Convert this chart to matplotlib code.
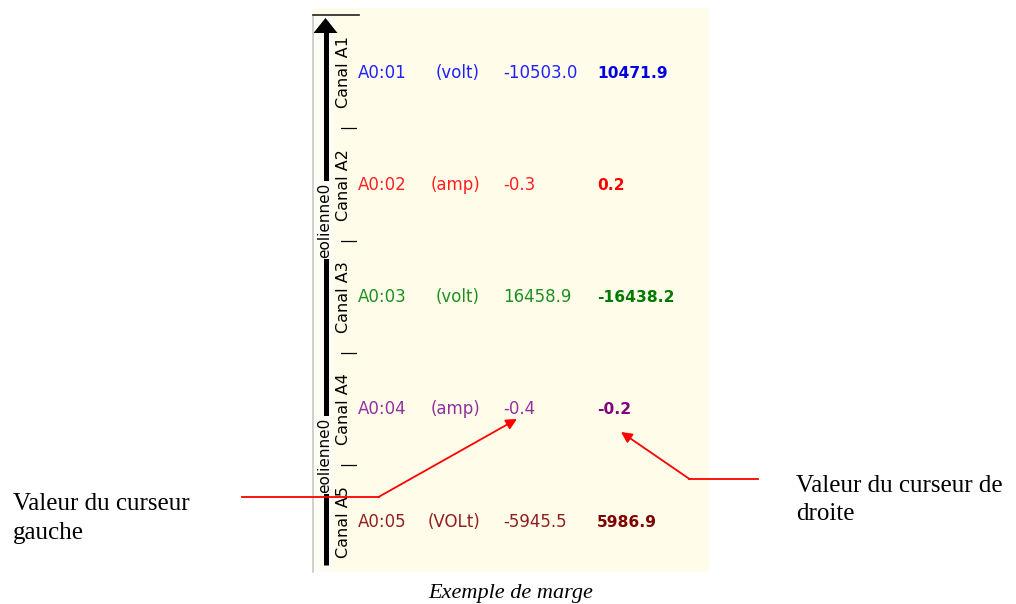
import matplotlib.pyplot as plt

# valeurs de la marge
voies = ["A0:01", "A0:02", "A0:03", "A0:04", "A0:05"]
unites = ["(volt)", "(amp)", "(volt)", "(amp)", "(VOLt)"]
curseur_gauche = [-10503.0, -0.3, 16458.9, -0.4, -5945.5]
curseur_droite = [10471.9, 0.2, -16438.2, -0.2, 5986.9]
canaux = ["Canal A1", "Canal A2", "Canal A3", "Canal A4", "Canal A5"]
couleurs = ["#2020ff", "#ff2020", "#1f8f1f", "#9030a0", "#902020"]
couleurs_gras = ["#0000e0", "#ff0000", "#007a00", "#800080", "#800000"]
groupe = "eolienne0"

W, H = 1016, 604
fig = plt.figure(figsize=(W / 100, H / 100), dpi=100)
ax = fig.add_axes([0, 0, 1, 1])
ax.set_xlim(0, W)
ax.set_ylim(H, 0)
ax.axis("off")

creme = "#fffde9"
bande = "#fdfdf6"

# fond de la marge
ax.add_patch(plt.Rectangle((312, 8), 397, 564, facecolor=creme, edgecolor="none"))
ax.add_patch(plt.Rectangle((313, 16), 21, 556, facecolor=bande, edgecolor="none"))
ax.plot([312.5, 312.5], [16, 572], color="#c8c8c8", lw=1.2)
ax.plot([313, 359], [15, 15], color="#202020", lw=1.2)

# fleche verticale
ax.plot([325.5, 325.5], [32, 565], color="black", lw=3.6, solid_capstyle="butt")
ax.fill([325.5, 313.5, 337.5], [18, 33, 33], color="black", lw=0)
for yc in [220, 455]:
    ax.text(324.5, yc, groupe, rotation=90, ha="center", va="center",
            fontsize=11, color="black",
            bbox=dict(facecolor=bande, edgecolor="none", pad=1.0))

y0, dy = 71.5, 112.3
for i in range(len(voies)):
    yc = y0 + dy * i
    ax.text(344, yc + 1, canaux[i], rotation=90, ha="center", va="center",
            fontsize=11.5, color="black")
    if i < len(voies) - 1:
        ax.text(348, yc + dy / 2 - 1, "|", rotation=90, ha="center", va="center",
                fontsize=11, color="black")
    yb = yc + 6
    ax.text(358, yb, voies[i], ha="left", va="baseline", fontsize=12, color=couleurs[i])
    ax.text(480, yb, unites[i], ha="right", va="baseline", fontsize=12, color=couleurs[i])
    ax.text(503, yb, f"{curseur_gauche[i]:.1f}", ha="left", va="baseline",
            fontsize=12, color=couleurs[i])
    ax.text(597, yb, f"{curseur_droite[i]:.1f}", ha="left", va="baseline",
            fontsize=11.2, fontweight="bold", color=couleurs_gras[i])

# fleches rouges
rouge = "#ff0000"
ax.plot([242, 379], [497, 497], color=rouge, lw=1.3)
ax.annotate("", xy=(517, 419), xytext=(378.5, 497),
            arrowprops=dict(arrowstyle="-|>", color=rouge, lw=1.3,
                            mutation_scale=16, shrinkA=0, shrinkB=0))
ax.plot([758, 689], [479, 479], color=rouge, lw=1.3)
ax.annotate("", xy=(621, 432), xytext=(689.5, 479),
            arrowprops=dict(arrowstyle="-|>", color=rouge, lw=1.3,
                            mutation_scale=16, shrinkA=0, shrinkB=0))

serif = "Liberation Serif"
ax.text(13, 510, "Valeur du curseur", family=serif, fontsize=18, va="baseline")
ax.text(13, 539, "gauche", family=serif, fontsize=18, va="baseline")
ax.text(796, 492, "Valeur du curseur de", family=serif, fontsize=18, va="baseline")
ax.text(796, 520, "droite", family=serif, fontsize=18, va="baseline")
ax.text(510.5, 598, "Exemple de marge", family=serif, style="italic",
        fontsize=16, ha="center", va="baseline")

fig.savefig("out.png", dpi=100)
